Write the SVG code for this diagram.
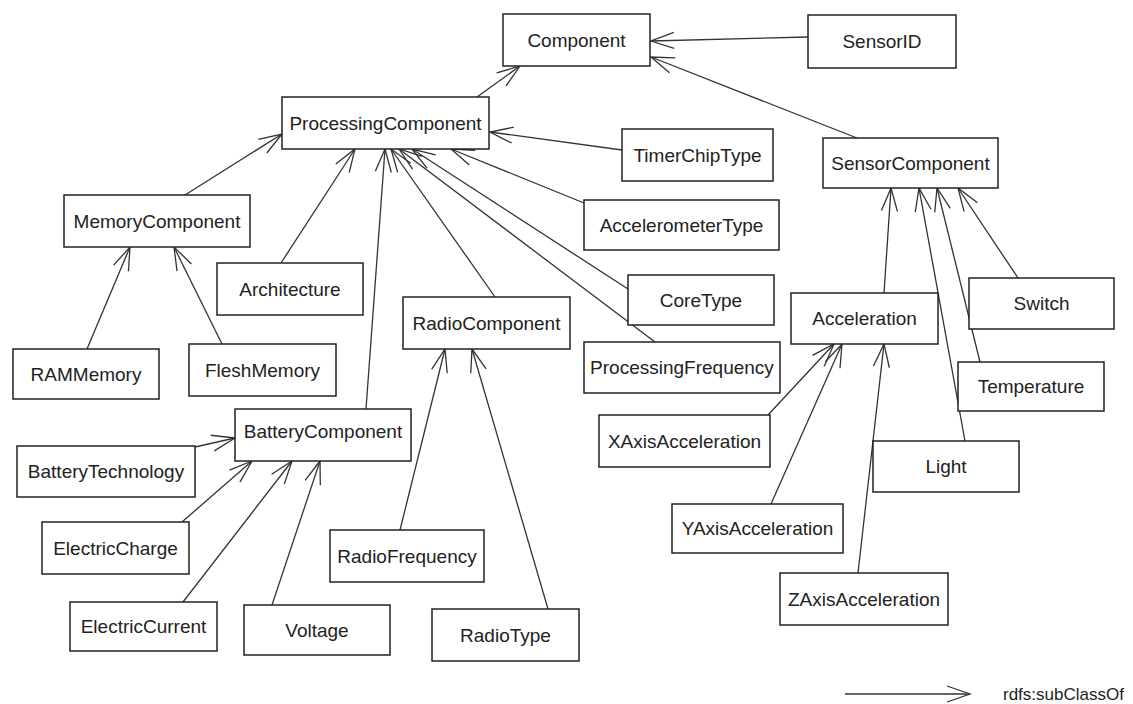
<svg xmlns="http://www.w3.org/2000/svg" width="1133" height="704" viewBox="0 0 1133 704">
<style>
.box{fill:#fff;stroke:#222;stroke-width:1.5}
.lbl{font-family:"Liberation Sans",Arial,sans-serif;font-size:19px;fill:#222;text-anchor:middle}
.edge{stroke:#333;stroke-width:1.3;fill:none;marker-end:url(#arr)}
</style>
<defs>
<marker id="arr" markerUnits="userSpaceOnUse" markerWidth="26" markerHeight="18" viewBox="0 0 26 18" refX="24" refY="9" orient="auto">
<path d="M1,1 L24,9 L1,17" fill="none" stroke="#333" stroke-width="1.3"/>
</marker>
</defs>
<rect width="1133" height="704" fill="#fff"/>
<g id="connectors">
<line class="edge" x1="808" y1="37" x2="651" y2="41"/>
<line class="edge" x1="477" y1="97" x2="520" y2="66"/>
<line class="edge" x1="857" y1="138" x2="651" y2="57"/>
<line class="edge" x1="622" y1="150" x2="490" y2="132"/>
<line class="edge" x1="185" y1="195" x2="282" y2="134"/>
<line class="edge" x1="281" y1="263" x2="355" y2="149"/>
<line class="edge" x1="366" y1="409" x2="385" y2="149"/>
<line class="edge" x1="495" y1="297" x2="391" y2="149"/>
<line class="edge" x1="628" y1="289" x2="412" y2="149"/>
<line class="edge" x1="655" y1="342" x2="399" y2="149"/>
<line class="edge" x1="584" y1="203" x2="451" y2="149"/>
<line class="edge" x1="87" y1="349" x2="130" y2="247"/>
<line class="edge" x1="222" y1="344" x2="174" y2="247"/>
<line class="edge" x1="195" y1="447" x2="235" y2="438"/>
<line class="edge" x1="182" y1="522" x2="252" y2="461"/>
<line class="edge" x1="183" y1="602" x2="292" y2="461"/>
<line class="edge" x1="272" y1="605" x2="320" y2="461"/>
<line class="edge" x1="400" y1="530" x2="445" y2="349"/>
<line class="edge" x1="548" y1="609" x2="472" y2="349"/>
<line class="edge" x1="884" y1="293" x2="891" y2="188"/>
<line class="edge" x1="965" y1="441" x2="919" y2="188"/>
<line class="edge" x1="980" y1="362" x2="937" y2="188"/>
<line class="edge" x1="1018" y1="278" x2="958" y2="188"/>
<line class="edge" x1="768" y1="415" x2="834" y2="344"/>
<line class="edge" x1="771" y1="504" x2="842" y2="344"/>
<line class="edge" x1="858" y1="573" x2="884" y2="344"/>
</g>
<g id="Component"><rect class="box" x="503" y="14" width="147" height="52"/><text class="lbl" x="576.5" y="47">Component</text></g>
<g id="SensorID"><rect class="box" x="808" y="15" width="148" height="53"/><text class="lbl" x="882" y="48">SensorID</text></g>
<g id="ProcessingComponent"><rect class="box" x="282" y="97" width="207" height="52"/><text class="lbl" x="385.5" y="130">ProcessingComponent</text></g>
<g id="TimerChipType"><rect class="box" x="622" y="129" width="151" height="52"/><text class="lbl" x="697.5" y="162">TimerChipType</text></g>
<g id="SensorComponent"><rect class="box" x="823" y="138" width="175" height="50"/><text class="lbl" x="910.5" y="170">SensorComponent</text></g>
<g id="MemoryComponent"><rect class="box" x="64" y="195" width="186" height="52"/><text class="lbl" x="157" y="228">MemoryComponent</text></g>
<g id="AccelerometerType"><rect class="box" x="584" y="200" width="195" height="50"/><text class="lbl" x="681.5" y="232">AccelerometerType</text></g>
<g id="Architecture"><rect class="box" x="217" y="263" width="146" height="52"/><text class="lbl" x="290" y="296">Architecture</text></g>
<g id="CoreType"><rect class="box" x="628" y="275" width="146" height="50"/><text class="lbl" x="701" y="307">CoreType</text></g>
<g id="Switch"><rect class="box" x="969" y="278" width="145" height="51"/><text class="lbl" x="1041.5" y="310">Switch</text></g>
<g id="RadioComponent"><rect class="box" x="403" y="297" width="167" height="52"/><text class="lbl" x="486.5" y="330">RadioComponent</text></g>
<g id="Acceleration"><rect class="box" x="791" y="293" width="147" height="51"/><text class="lbl" x="864.5" y="325">Acceleration</text></g>
<g id="RAMMemory"><rect class="box" x="13" y="349" width="146" height="50"/><text class="lbl" x="86" y="381">RAMMemory</text></g>
<g id="FleshMemory"><rect class="box" x="189" y="344" width="147" height="52"/><text class="lbl" x="262.5" y="377">FleshMemory</text></g>
<g id="ProcessingFrequency"><rect class="box" x="584" y="342" width="196" height="51"/><text class="lbl" x="682" y="374">ProcessingFrequency</text></g>
<g id="Temperature"><rect class="box" x="958" y="362" width="146" height="49"/><text class="lbl" x="1031" y="393">Temperature</text></g>
<g id="BatteryComponent"><rect class="box" x="235" y="409" width="176" height="52"/><text class="lbl" x="323" y="438">BatteryComponent</text></g>
<g id="XAxisAcceleration"><rect class="box" x="599" y="415" width="171" height="52"/><text class="lbl" x="684.5" y="448">XAxisAcceleration</text></g>
<g id="BatteryTechnology"><rect class="box" x="17" y="446" width="178" height="51"/><text class="lbl" x="106" y="478">BatteryTechnology</text></g>
<g id="Light"><rect class="box" x="873" y="441" width="146" height="51"/><text class="lbl" x="946" y="473">Light</text></g>
<g id="ElectricCharge"><rect class="box" x="42" y="522" width="147" height="52"/><text class="lbl" x="115.5" y="555">ElectricCharge</text></g>
<g id="RadioFrequency"><rect class="box" x="330" y="530" width="154" height="52"/><text class="lbl" x="407" y="563">RadioFrequency</text></g>
<g id="YAxisAcceleration"><rect class="box" x="672" y="504" width="171" height="49"/><text class="lbl" x="757.5" y="535">YAxisAcceleration</text></g>
<g id="ZAxisAcceleration"><rect class="box" x="780" y="573" width="168" height="52"/><text class="lbl" x="864" y="606">ZAxisAcceleration</text></g>
<g id="ElectricCurrent"><rect class="box" x="70" y="602" width="147" height="49"/><text class="lbl" x="143.5" y="633">ElectricCurrent</text></g>
<g id="Voltage"><rect class="box" x="244" y="605" width="146" height="50"/><text class="lbl" x="317" y="637">Voltage</text></g>
<g id="RadioType"><rect class="box" x="432" y="609" width="147" height="52"/><text class="lbl" x="505.5" y="642">RadioType</text></g>
<g id="legend">
<line class="edge" x1="845" y1="694" x2="970" y2="694"/>
<text x="1003" y="700" style="font-family:'Liberation Sans',Arial,sans-serif;font-size:17px;fill:#222">rdfs:subClassOf</text>
</g>
</svg>
